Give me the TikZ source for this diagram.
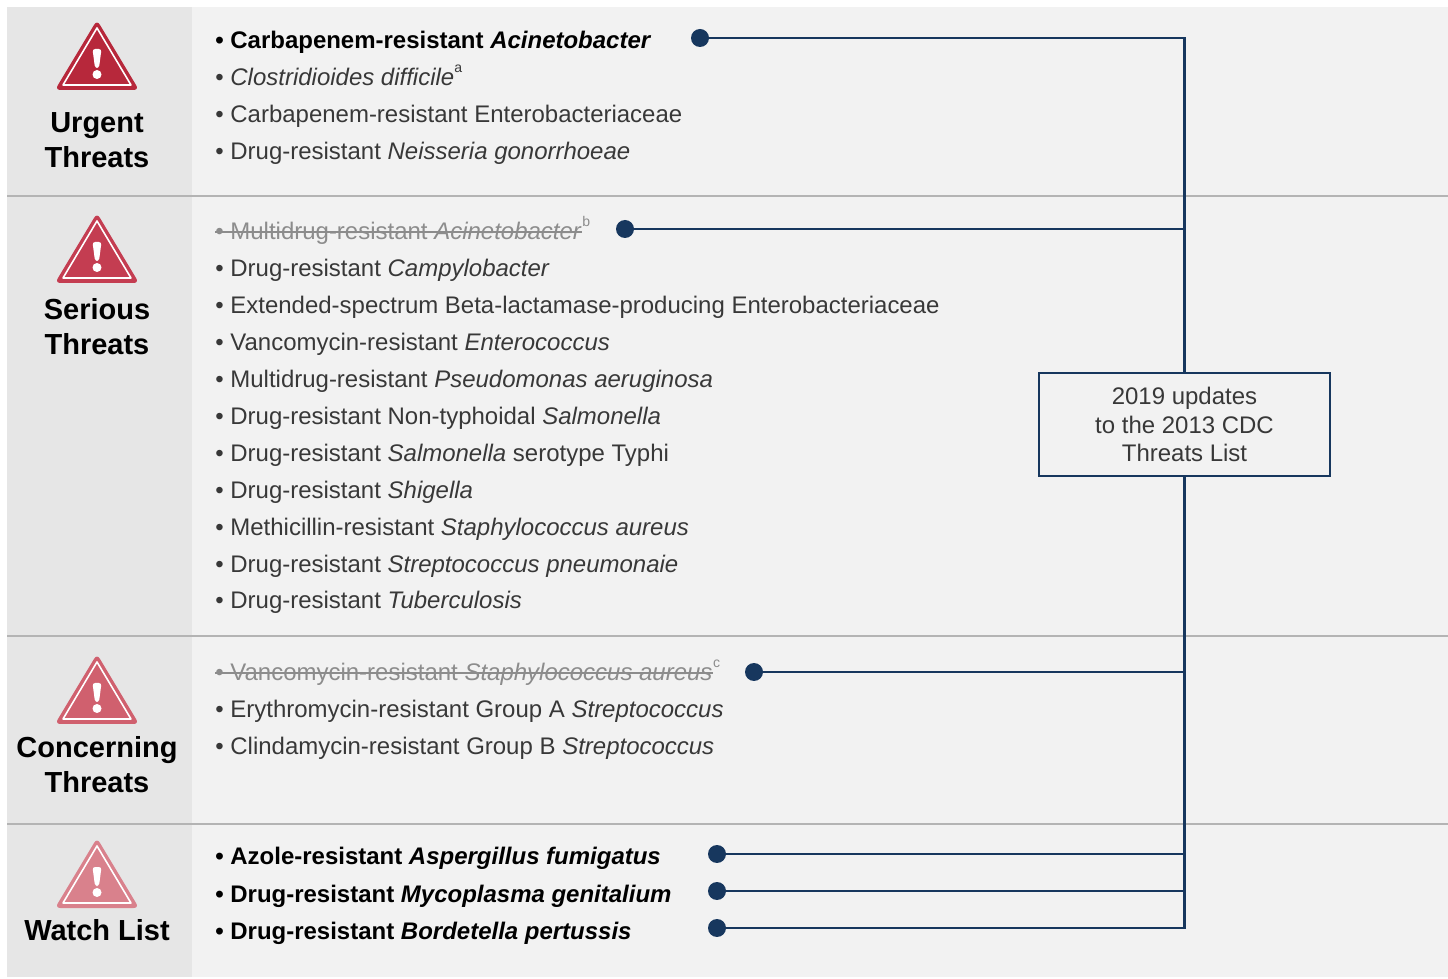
\documentclass[tikz,border=0pt]{standalone}
\usepackage{fontspec}
\setmainfont{Liberation Sans}
\usetikzlibrary{positioning}

\definecolor{navy}{HTML}{17375E}
\definecolor{panel}{HTML}{F2F2F2}
\definecolor{side}{HTML}{E6E6E6}
\definecolor{rule}{HTML}{B4B4B4}
\definecolor{txtgray}{HTML}{383838}
\definecolor{strikegray}{HTML}{8C8C8C}
\definecolor{warnA}{HTML}{B7283B}
\definecolor{warnB}{HTML}{C43D51}
\definecolor{warnC}{HTML}{D0606E}
\definecolor{warnD}{HTML}{D9818C}

\newcommand{\supnote}[1]{\raisebox{0.55em}{\fontsize{8}{8}\selectfont #1}}

\tikzset{
  item/.style={anchor=base west, inner sep=0pt, text=txtgray, font=\fontsize{13.65}{16}\selectfont},
  bolditem/.style={item, text=black, font=\fontsize{13.65}{16}\selectfont\bfseries},
  gone/.style={item, text=strikegray},
  strike/.style={strikegray, line width=0.7pt},
  title/.style={anchor=base, align=center, inner sep=0pt, text=black, font=\fontsize{16.5}{19.9}\selectfont\bfseries},
  dot/.style={circle, fill=navy, inner sep=0pt, minimum size=0.36cm},
  link/.style={navy, line width=1.2pt},
  updbox/.style={draw=navy, line width=1.2pt, fill=panel, align=center, text=txtgray,
    minimum width=5.82cm, minimum height=2.06cm, font=\fontsize{13.65}{16.2}\selectfont},
}

\begin{document}
\begin{tikzpicture}[x=0.02cm, y=-0.02cm]
  \useasboundingbox (0,0) rectangle (1448,979);

  % panels
  \fill[white] (0,0) rectangle (1448,979);
  \fill[panel] (7,7) rectangle (1448,977);
  \fill[side] (7,7) rectangle (192,977);
  \foreach \yy in {196,636,824}
    \draw[rule, line width=1.1pt] (7,\yy) -- (1448,\yy);

  % warning signs
  \foreach \dy/\col in {0/warnA, 193/warnB, 634/warnC, 818/warnD} {
    \fill[\col, rounded corners=3] (55,90+\dy) -- (97,20+\dy) -- (139,90+\dy) -- cycle;
    \draw[white, line width=0.9pt, line join=round] (63,85+\dy) -- (97,28+\dy) -- (131,85+\dy) -- cycle;
    \fill[white, rounded corners=1.5] (92.5,49+\dy) -- (101.5,49+\dy) -- (99,68+\dy) -- (95,68+\dy) -- cycle;
    \fill[white] (97,74.5+\dy) circle (4.5);
  }

  % categories (base = last line)
  \node[title] (turg) at (97,167.5) {Urgent\\Threats};
  \node[title] (tser) at (97,354.5) {Serious\\Threats};
  \node[title] (tcon) at (97,792.5) {Concerning\\Threats};
  \node[title] (twat) at (97,940.5) {Watch List};

  % urgent
  \node[bolditem] (u1) at (215,49) {\textbullet\ Carbapenem-resistant \textit{Acinetobacter}};
  \node[item] (u2) at (215,86) {\textbullet\ \textit{Clostridioides difficile}\supnote{a}};
  \node[item] (u3) at (215,123) {\textbullet\ Carbapenem-resistant Enterobacteriaceae};
  \node[item] (u4) at (215,160) {\textbullet\ Drug-resistant \textit{Neisseria gonorrhoeae}};

  % serious
  \node[gone] (s1) at (215,240) {\textbullet\ Multidrug-resistant \textit{Acinetobacter}};
  \node[gone, anchor=base west] (s1sup) at (s1.base east) {\supnote{b}};
  \draw[strike] ([yshift=0.16cm]s1.base west) -- ([yshift=0.16cm]s1.base east);
  \node[item] (s2) at (215,277) {\textbullet\ Drug-resistant \textit{Campylobacter}};
  \node[item] (s3) at (215,314) {\textbullet\ Extended-spectrum Beta-lactamase-producing Enterobacteriaceae};
  \node[item] (s4) at (215,351) {\textbullet\ Vancomycin-resistant \textit{Enterococcus}};
  \node[item] (s5) at (215,388) {\textbullet\ Multidrug-resistant \textit{Pseudomonas aeruginosa}};
  \node[item] (s6) at (215,425) {\textbullet\ Drug-resistant Non-typhoidal \textit{Salmonella}};
  \node[item] (s7) at (215,462) {\textbullet\ Drug-resistant \textit{Salmonella} serotype Typhi};
  \node[item] (s8) at (215,499) {\textbullet\ Drug-resistant \textit{Shigella}};
  \node[item] (s9) at (215,536) {\textbullet\ Methicillin-resistant \textit{Staphylococcus aureus}};
  \node[item] (s10) at (215,573) {\textbullet\ Drug-resistant \textit{Streptococcus pneumonaie}};
  \node[item] (s11) at (215,609) {\textbullet\ Drug-resistant \textit{Tuberculosis}};

  % concerning
  \node[gone] (c1) at (215,681) {\textbullet\ Vancomycin-resistant \textit{Staphylococcus aureus}};
  \node[gone, anchor=base west] (c1sup) at (c1.base east) {\supnote{c}};
  \draw[strike] ([yshift=0.16cm]c1.base west) -- ([yshift=0.16cm]c1.base east);
  \node[item] (c2) at (215,718) {\textbullet\ Erythromycin-resistant Group A \textit{Streptococcus}};
  \node[item] (c3) at (215,755) {\textbullet\ Clindamycin-resistant Group B \textit{Streptococcus}};

  % watch list
  \node[bolditem] (w1) at (215,865) {\textbullet\ Azole-resistant \textit{Aspergillus fumigatus}};
  \node[bolditem] (w2) at (215,902) {\textbullet\ Drug-resistant \textit{Mycoplasma genitalium}};
  \node[bolditem] (w3) at (215,939) {\textbullet\ Drug-resistant \textit{Bordetella pertussis}};

  % updates
  \node[updbox] (upd) at (1184.5,424.5) {2019 updates\\to the 2013 CDC\\Threats List};

  \node[dot] (du1) at (700,38) {};
  \node[dot] (ds1) at (625,229) {};
  \node[dot] (dc1) at (754,672) {};
  \node[dot] (dw1) at (717,854) {};
  \node[dot] (dw2) at (717,891) {};
  \node[dot] (dw3) at (717,928) {};

  \draw[link] (du1) -- (du1 -| upd) -- (upd);
  \draw[link] (ds1) -- (ds1 -| upd);
  \draw[link] (dc1) -- (dc1 -| upd);
  \draw[link] (dw3) -- (dw3 -| upd) -- (upd);
  \draw[link] (dw1) -- (dw1 -| upd);
  \draw[link] (dw2) -- (dw2 -| upd);

\end{tikzpicture}
\end{document}
